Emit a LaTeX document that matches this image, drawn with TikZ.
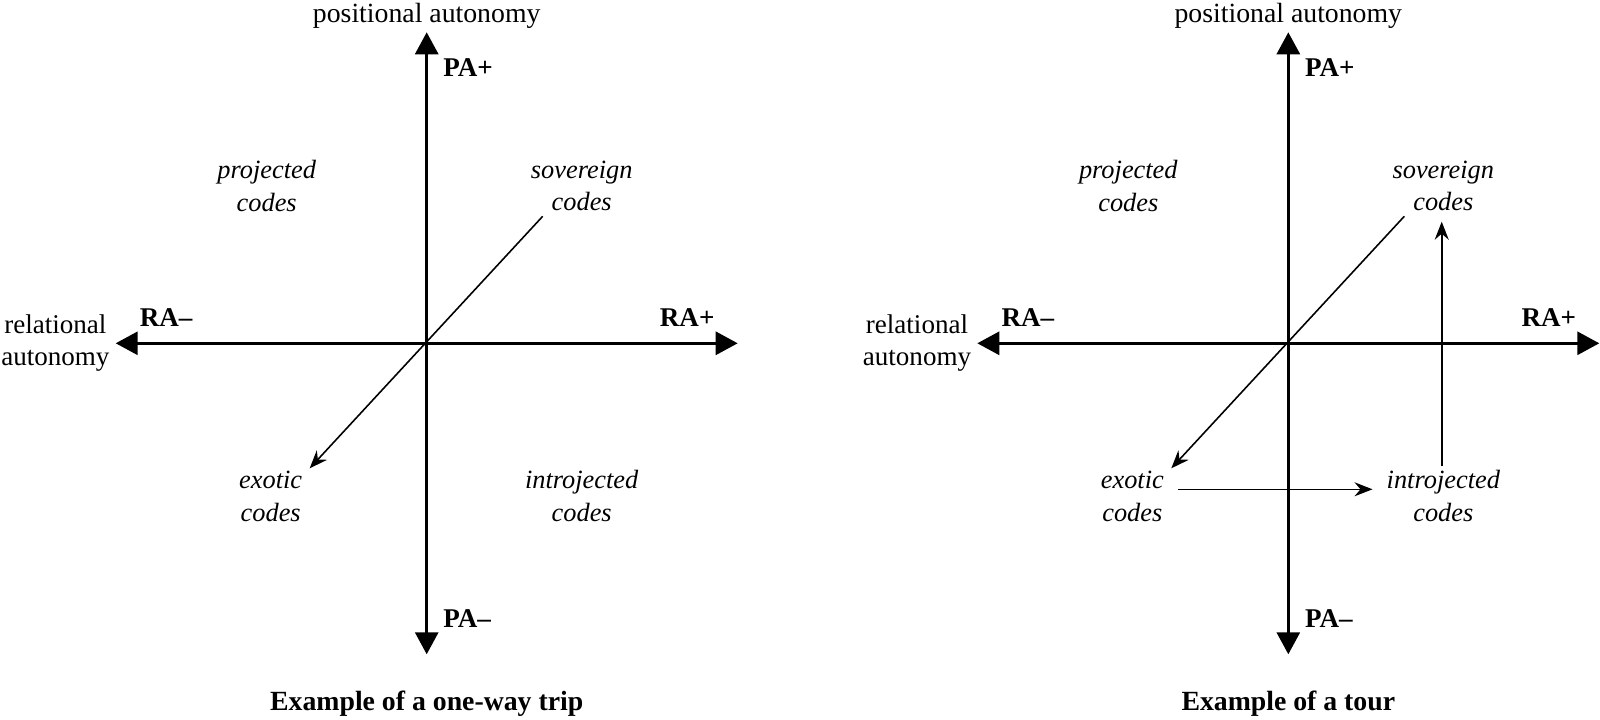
\documentclass[tikz,border=0pt]{standalone}
\usepackage{fontspec}
\setmainfont{Liberation Serif}
\usetikzlibrary{arrows.meta, calc}
\tikzset{
    axis/.style={line width=0.85pt, {Triangle[length=2.2mm,width=2.3mm]}-{Triangle[length=2.2mm,width=2.3mm]}},
    route/.style={line width=0.45pt, -{Stealth[length=1.8mm,width=1.4mm,inset=0.6mm]}},
    every node/.style={font=\fontsize{7.9}{9}\selectfont},
    pole/.style={font=\fontsize{7.7}{9}\selectfont\bfseries, inner sep=0pt},
    code/.style={font=\fontsize{7.5}{9.3}\selectfont\itshape, align=center, inner sep=0pt},
}
\newcommand{\drawQuadrants}[1]{
    \def\len{3.11}
    \coordinate (O) at (0,0);
    \coordinate (N) at (90:\len);
    \coordinate (W) at (180:\len);
    \coordinate (S) at (270:\len);
    \coordinate (E) at (0:\len);
    \coordinate (NE) at (1.16,1.27);
    \coordinate (SW) at (-1.17,-1.25);

    \draw[axis] (S) -- (N);
    \draw[axis] (W) -- (E);
    \draw[route] (NE) -- (SW);

    \node (pa) at (0,3.275) {positional autonomy};
    \node[font=\fontsize{7.7}{9}\selectfont, align=center, inner sep=0pt, anchor=east] (ra) at (-3.165,0) {relational\\autonomy};
    \node[pole, anchor=west] (paplus) at (0.16,2.755) {PA+};
    \node[pole, anchor=west] (paminus) at (0.16,-2.755) {PA--};
    \node[pole] (raminus) at (-2.605,0.255) {RA--};
    \node[pole] (raplus) at (2.605,0.255) {RA+};
    \node[code] (proj) at (-1.6,1.575) {projected\\codes};
    \node[code] (sov) at (1.55,1.575) {sovereign\\codes};
    \node[code] (ex) at (-1.56,-1.53) {exotic\\codes};
    \node[code] (in) at (1.55,-1.53) {introjected\\codes};
    \node (title) at (0,-3.605) {\bfseries #1};
}

\begin{document}
\begin{tikzpicture}
    \def\XA{4.267cm}
    \def\XB{12.883cm}
    \def\YA{3.757cm}
    \useasboundingbox (0,0) rectangle (16,7.19);
    \begin{scope}[xshift=\XA,yshift=\YA]
        \drawQuadrants{Example of a one-way trip}
    \end{scope}

    \begin{scope}[xshift=\XB,yshift=\YA]
        \drawQuadrants{Example of a tour}
        \draw[route] ([shift={(0.14,0.07)}]ex.east) -- ([shift={(-0.135,0.07)}]ex.east -| in.west);
        \draw[route] ([shift={(-0.016,0.035)}]in.north) -- ([shift={(-0.016,-0.1)}]sov.south);
    \end{scope}
\end{tikzpicture}
\end{document}
